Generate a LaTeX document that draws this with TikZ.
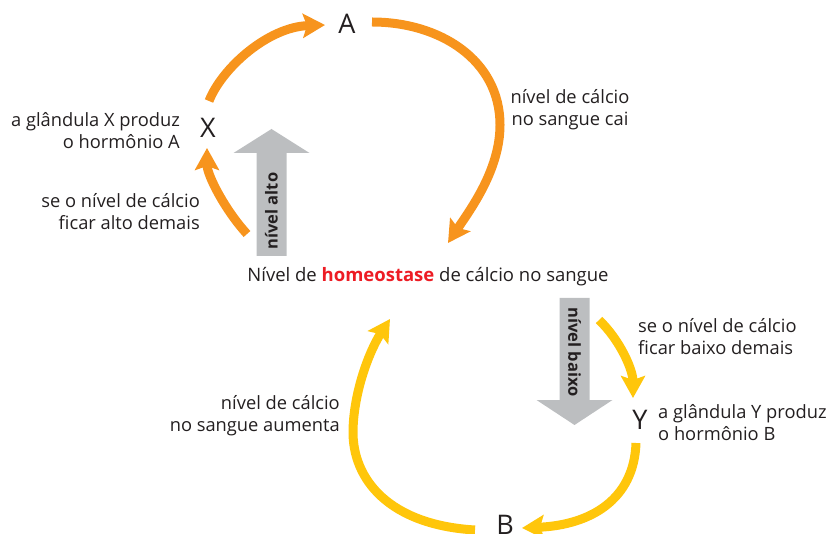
\documentclass[tikz,border=0pt]{standalone}
\usepackage{fontspec}
\setmainfont{Open Sans}
\usetikzlibrary{arrows.meta}
\definecolor{loopOrange}{HTML}{F7941D}
\definecolor{loopYellow}{HTML}{FFC60B}
\definecolor{levelGray}{HTML}{BCBEC0}
\definecolor{inkGray}{HTML}{231F20}
\definecolor{homeoRed}{HTML}{ED1C24}
\newcommand{\drawLevelArrow}[4]{
\fill [levelGray] (#1-15,#2) -- (#1+15,#2) -- (#1+15,#3) -- (#1+38,#3) -- (#1,#4) -- (#1-38,#3) -- (#1-15,#3) -- cycle;
}
\tikzset{
  letter/.style={font=\fontsize{27}{30}\selectfont,text=inkGray,inner sep=0pt},
  note/.style={font=\fontsize{18.3}{22}\selectfont,text=inkGray,inner sep=0pt},
  flow/.style={line width=9pt,-{Stealth[length=22pt,width=24pt,inset=4pt]}},
}

\begin{document}
\begin{tikzpicture}[x=1pt,y=-1pt]
\useasboundingbox (0,0) rectangle (835,534);
%
\node [letter] (A) at (347,24) {A};
\node [letter] (X) at (208,128) {X};
\node [letter] (Y) at (640,420) {Y};
\node [letter] (B) at (505,525) {B};
\node [note,font=\fontsize{18.5}{22}\selectfont] (lvl) at (428,277) {Nível de {\color{homeoRed}\bfseries homeostase} de cálcio no sangue};
%
\node [note,anchor=east,align=right] (gX) at (180,131) {a glândula X produz\\o hormônio A};
\node [note,anchor=east,align=right] (hi) at (200,212) {se o nível de cálcio\\ficar alto demais};
\node [note,align=center] (drop) at (570,110) {nível de cálcio\\no sangue cai};
\node [note,anchor=west,align=left] (lo) at (638,337) {se o nível de cálcio\\ficar baixo demais};
\node [note,anchor=west,align=left] (gY) at (658,423) {a glândula Y produz\\o hormônio B};
\node [note,anchor=east,align=right] (rise) at (340,416) {nível de cálcio\\no sangue aumenta};
%
\drawLevelArrow{271.5}{256}{153}{129}
\node [note,font=\bfseries\fontsize{16.5}{18}\selectfont,rotate=90] (up) at (271.5,211) {nível alto};
\drawLevelArrow{574.5}{298}{400}{425}
\node [note,font=\bfseries\fontsize{16.5}{18}\selectfont,rotate=-90] (down) at (574.5,352) {nível baixo};
%
\draw [flow,loopOrange] ([shift={(1,-27)}]X.center) .. controls (222,68) and (268,27) .. ([shift={(-22,1)}]A.center);
\draw [flow,loopOrange] ([shift={(25,-2)}]A.center) .. controls (440,22) and (500,60) .. (500,125) .. controls (500,170) and (470,210) .. ([shift={(20,-34)}]lvl.center);
\draw [flow,loopOrange] ([shift={(-181,-43)}]lvl.center) .. controls (225,210) and (207,175) .. ([shift={(-1,20)}]X.center);
%
\draw [flow,loopYellow] ([shift={(171,43)}]lvl.center) .. controls (620,340) and (633,370) .. ([shift={(-7,-22)}]Y.center);
\draw [flow,loopYellow] ([shift={(-4,23)}]Y.center) .. controls (634,500) and (590,525) .. ([shift={(17,3)}]B.center);
\draw [flow,loopYellow] ([shift={(-30,5)}]B.center) .. controls (390,525) and (352,480) .. (353,430) .. controls (354,390) and (370,350) .. ([shift={(-38,42)}]lvl.center);
\end{tikzpicture}
\end{document}
